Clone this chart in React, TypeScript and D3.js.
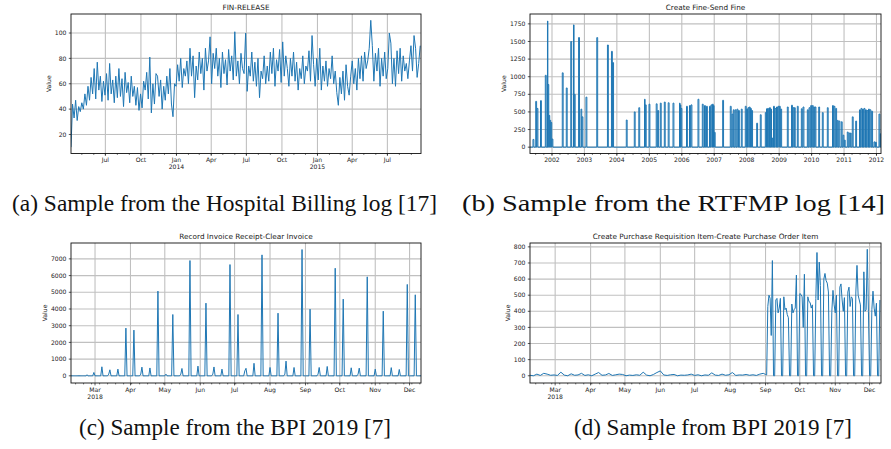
import React from "react";
import * as d3 from "d3";

const W = 891;
const H = 449;

// (a) Hospital Billing, FIN-RELEASE: one reading every 4 days from 2013-04-03
const finStart = "2013-04-03";
const finEnd = "2015-09-26";
const finValues = [
  10, 44, 33, 47, 31, 42, 38, 45,
  40, 52, 43, 58, 47, 65, 52,
  72, 48, 77, 55, 66, 46, 62, 51,
  68, 47, 76, 52, 63, 45, 66,
  49, 72, 50, 64, 42, 69, 53, 61,
  45, 66, 50, 58, 43, 57, 39,
  52, 41, 62, 55, 69, 48, 81, 37,
  60, 44, 68, 66, 50, 63, 40,
  58, 47, 66, 52, 72, 44, 34, 60,
  58, 75, 62, 80, 57, 72, 66,
  78, 60, 88, 66, 82, 49, 74, 63,
  85, 68, 80, 55, 88, 70, 78,
  97, 60, 84, 72, 88, 66, 80, 57,
  85, 68, 79, 59, 87, 70, 82,
  63, 101, 66, 78, 60, 84, 72, 68,
  100, 54, 74, 66, 85, 62, 77,
  58, 80, 49, 70, 64, 82, 60, 74,
  62, 85, 68, 88, 58, 79, 70,
  87, 61, 93, 66, 82, 72, 58, 80,
  66, 85, 62, 77, 55, 72, 64,
  82, 60, 74, 70, 86, 62, 98, 75,
  58, 80, 63, 88, 55, 74, 62,
  78, 58, 72, 64, 82, 60, 70, 53,
  43, 65, 52, 70, 47, 75, 58,
  51, 66, 78, 60, 72, 55, 80, 64,
  82, 62, 85, 72, 78, 88, 110,
  90, 62, 84, 70, 88, 58, 80, 66,
  85, 64, 72, 100, 92, 60, 80,
  58, 86, 68, 88, 62, 82, 70, 76,
  64, 78, 90, 70, 98, 88, 65, 76, 90,
];

// (b) RTFMP, Create Fine-Send Fine: bursts (decimal year, value)
const fineDomain = [2001.322, 2012.139];
const fineYears = [
  2001.414, 2001.498, 2001.538, 2001.646, 2001.794, 2001.861, 2001.877, 2001.908, 2001.938, 2001.969,
  2002.0, 2002.317, 2002.441, 2002.579, 2002.663, 2002.687, 2002.82, 2002.894, 2002.925,
  2003.048, 2003.381, 2003.71, 2003.834, 2003.871,
  2004.29, 2004.536, 2004.675, 2004.851, 2004.875, 2004.989,
  2005.211, 2005.257, 2005.337, 2005.461, 2005.581, 2005.729, 2005.929, 2005.954, 2005.975,
  2006.145, 2006.237, 2006.284, 2006.499, 2006.632, 2006.7, 2006.761, 2006.854, 2006.9, 2006.946, 2006.977,
  2007.002, 2007.26, 2007.495, 2007.547, 2007.587, 2007.646, 2007.701, 2007.747, 2007.834, 2007.957,
  2008.0, 2008.04, 2008.08, 2008.117, 2008.154, 2008.308, 2008.419, 2008.573, 2008.61, 2008.647,
  2008.703, 2008.749, 2008.77, 2008.826, 2008.872, 2008.918, 2008.965,
  2009.005, 2009.048, 2009.251, 2009.381, 2009.427, 2009.467, 2009.559, 2009.683, 2009.735, 2009.868, 2009.92, 2009.972,
  2010.022, 2010.068, 2010.105, 2010.219, 2010.33, 2010.484, 2010.644, 2010.69, 2010.743, 2010.792, 2010.844, 2010.915, 2010.968,
  2011.008, 2011.1, 2011.153, 2011.193, 2011.254, 2011.359, 2011.476, 2011.522, 2011.569, 2011.615, 2011.661,
  2011.707, 2011.754, 2011.8, 2011.852, 2011.923, 2011.969,
  2012.077, 2012.117,
];
const fineValues = [
  110, 650, 550, 660, 1020, 1790, 890, 450, 380, 350,
  115, 1055, 840, 1500, 1735, 750, 1556, 540, 430,
  710, 1555, 1450, 1360, 1200,
  385, 500, 560, 680, 600, 610,
  615, 520, 625, 640, 630, 625, 625, 600, 550,
  580, 590, 600, 680, 610, 590, 580, 580, 600, 610, 590,
  210, 665, 580, 470, 530, 530, 540, 520, 540, 580,
  540, 560, 570, 550, 520, 340, 460, 490, 545, 550,
  560, 540, 130, 580, 550, 570, 580,
  580, 540, 570, 595, 560, 560, 580, 545, 570, 530, 560, 590,
  590, 570, 570, 570, 490, 560, 590, 580, 550, 380, 370, 360, 170,
  100, 215, 200, 200, 430, 370, 530, 550, 540, 550, 530,
  520, 540, 530, 510, 75, 70,
  470, 190,
];

// (c) BPI 2019, Record Invoice Receipt-Clear Invoice: daily, zero except these days
const invStart = "2018-02-08";
const invEnd = "2018-12-11";
const invoiceDates = [
  "2018-02-22", "2018-02-28", "2018-03-07", "2018-03-13", "2018-03-14", "2018-03-21", "2018-03-28",
  "2018-04-04", "2018-04-10", "2018-04-11", "2018-04-18", "2018-04-25", "2018-05-02", "2018-05-08",
  "2018-05-15", "2018-05-16", "2018-05-23", "2018-05-30", "2018-06-06", "2018-06-12", "2018-06-13",
  "2018-06-20", "2018-06-27", "2018-07-04", "2018-07-10", "2018-07-11", "2018-07-18", "2018-07-25",
  "2018-08-01", "2018-08-08", "2018-08-14", "2018-08-15", "2018-08-22", "2018-08-29", "2018-09-05",
  "2018-09-12", "2018-09-13", "2018-09-20", "2018-09-27", "2018-10-04", "2018-10-11", "2018-10-17",
  "2018-10-18", "2018-10-25", "2018-11-01", "2018-11-08", "2018-11-15", "2018-11-22", "2018-11-29",
  "2018-12-06",
];
const invoiceValues = [
  60, 200, 540, 100, 360, 400, 2855,
  2735, 100, 520, 470, 5070, 100, 3670,
  100, 440, 6900, 580, 4350, 100, 530,
  400, 6660, 3670, 300, 450, 750, 7240,
  500, 3750, 100, 880, 500, 7560, 3990,
  100, 500, 560, 6440, 4590, 480, 100,
  460, 5925, 400, 3870, 490, 380, 5470,
  4850,
];

// (d) BPI 2019, Create Purchase Requisition Item-Create Purchase Order Item
const reqStart = "2018-02-07";
const reqEnd = "2018-12-11";
// every 3 days from 2018-02-07
const reqEarly = [
  3, 0, 10, 2, 15, 10, 3, 5, 2, 22, 4, 0, 12, 3, 5, 15, 2, 6, 0, 10,
  20, 3, 5, 14, 2, 6, 10, 8, 0, 4, 2, 6, 3, 22, 4, 0, 8, 20, 30, 5,
  2, 6, 8, 0, 4, 3, 5, 10, 2, 6, 0, 5, 3, 18, 4, 2, 10, 3, 6, 20,
  2, 5, 4, 8, 3, 6, 2, 10, 15,
];
// daily from 2018-09-01
const reqDailyStart = "2018-09-01";
const reqDaily = [
  8, 5,
  430, 500, 480, 250, 715, 0, 0,
  470, 480, 390, 420, 480, 0, 0,
  490, 410, 420, 380, 360, 0, 0,
  445, 390, 410, 420, 625, 0, 0,
  510, 505, 490, 300, 630, 0, 0,
  490, 460, 455, 420, 440, 0, 0,
  480, 765, 470, 705, 560, 0, 0,
  600, 635, 590, 575, 520, 0, 0,
  400, 530, 440, 390, 500, 0, 0,
  550, 570, 470, 400, 485, 0, 0,
  520, 550, 430, 490, 480, 0, 0,
  520, 685, 500, 470, 440, 0, 0,
  645, 400, 410, 785, 400, 0, 0,
  410, 525, 420, 370, 450, 0, 0,
  470,
];

const yTicksA = [20, 40, 60, 80, 100];
const yTicksB = [0, 250, 500, 750, 1000, 1250, 1500, 1750];
const yTicksC = [0, 1000, 2000, 3000, 4000, 5000, 6000, 7000];
const yTicksD = [0, 100, 200, 300, 400, 500, 600, 700, 800];

const titles = [
  "FIN-RELEASE",
  "Create Fine-Send Fine",
  "Record Invoice Receipt-Clear Invoice",
  "Create Purchase Requisition Item-Create Purchase Order Item",
];
const captions = [
  "(a) Sample from the Hospital Billing log [17]",
  "(b) Sample from the RTFMP log [14]",
  "(c) Sample from the BPI 2019 [7]",
  "(d) Sample from BPI 2019 [7]",
];

const BLUE = "#1f77b4";
const GRID = "#c0c0c0";
const SANS = "DejaVu Sans, sans-serif";
const SERIF = "Liberation Serif, Times New Roman, serif";

const parse = d3.timeParse("%Y-%m-%d");
const key = d3.timeFormat("%Y-%m-%d");
const fmtMon = d3.timeFormat("%b");
const fmtYear = d3.timeFormat("%Y");

const fromDecimalYear = (y: number): Date => {
  const yr = Math.floor(y);
  const a = new Date(yr, 0, 1).getTime();
  const b = new Date(yr + 1, 0, 1).getTime();
  return new Date(a + (y - yr) * (b - a));
};

type Pt = [Date, number];

type PanelSpec = {
  id: string;
  x: number;
  y: number;
  w: number;
  h: number;
  title: string;
  xDomain: [Date, Date];
  yDomain: [number, number];
  yTicks: number[];
  major: Date[];
  minor: Date[];
  label: (d: Date, i: number) => string[];
  points: Pt[];
};

// build the series
const finPoints: Pt[] = finValues.map((v, i) => [d3.timeDay.offset(parse(finStart)!, 4 * i), v]);

const fineD0 = fromDecimalYear(fineDomain[0]);
const fineD1 = fromDecimalYear(fineDomain[1]);
const finePoints: Pt[] = [[fineD0, 0]];
fineYears.forEach((yr, i) => {
  const d = fromDecimalYear(yr);
  const next = i < fineYears.length - 1 ? fromDecimalYear(fineYears[i + 1]) : fineD1;
  const span = Math.min(10 * 864e5, 0.75 * (next.getTime() - d.getTime()));
  const e = new Date(d.getTime() + span);
  finePoints.push([d, 0], [d, fineValues[i]], [e, fineValues[i]], [e, 0]);
});
finePoints.push([fineD1, 0]);

const invMap = new Map(invoiceDates.map((d, i) => [d, invoiceValues[i]]));
const invPoints: Pt[] = d3.timeDay
  .range(parse(invStart)!, d3.timeDay.offset(parse(invEnd)!, 1))
  .map((d) => [d, invMap.get(key(d)) ?? 0]);

const reqPoints: Pt[] = [
  ...reqEarly.map((v, i) => [d3.timeDay.offset(parse(reqStart)!, 3 * i), v] as Pt),
  ...reqDaily.map((v, i) => [d3.timeDay.offset(parse(reqDailyStart)!, i), v] as Pt),
];

const monthLabel = (d: Date) => (d.getMonth() === 0 ? [fmtMon(d), fmtYear(d)] : [fmtMon(d)]);
const firstYearLabel = (d: Date, i: number) => (i === 0 ? [fmtMon(d), fmtYear(d)] : [fmtMon(d)]);

const makeSpecs = (): PanelSpec[] => {
  const aD: [Date, Date] = [parse(finStart)!, parse(finEnd)!];
  const bD: [Date, Date] = [fineD0, fineD1];
  const cD: [Date, Date] = [parse(invStart)!, parse(invEnd)!];
  const dD: [Date, Date] = [parse(reqStart)!, parse(reqEnd)!];
  return [
    {
      id: "a", x: 71, y: 14, w: 350, h: 139.5, title: titles[0],
      xDomain: aD, yDomain: [5, 115], yTicks: yTicksA,
      major: d3.timeMonth.every(3)!.range(aD[0], aD[1]),
      minor: d3.timeMonth.range(aD[0], aD[1]),
      label: monthLabel, points: finPoints,
    },
    {
      id: "b", x: 530, y: 14, w: 351, h: 139.5, title: titles[1],
      xDomain: bD, yDomain: [-90, 1890], yTicks: yTicksB,
      major: d3.timeYear.range(bD[0], bD[1]),
      minor: d3.timeMonth.every(3)!.range(bD[0], bD[1]),
      label: (d) => [fmtYear(d)], points: finePoints,
    },
    {
      id: "c", x: 71, y: 243, w: 350, h: 140, title: titles[2],
      xDomain: cD, yDomain: [-430, 7950], yTicks: yTicksC,
      major: d3.timeMonth.range(cD[0], cD[1]),
      minor: d3.timeMonday.range(cD[0], cD[1]),
      label: firstYearLabel, points: invPoints,
    },
    {
      id: "d", x: 530, y: 243, w: 351, h: 140, title: titles[3],
      xDomain: dD, yDomain: [-45, 824], yTicks: yTicksD,
      major: d3.timeMonth.range(dD[0], dD[1]),
      minor: d3.timeMonday.range(dD[0], dD[1]),
      label: firstYearLabel, points: reqPoints,
    },
  ];
};

const Panel = ({ s }: { s: PanelSpec }) => {
  const xs = d3.scaleTime().domain(s.xDomain).range([s.x, s.x + s.w]);
  const ys = d3.scaleLinear().domain(s.yDomain).range([s.y + s.h, s.y]);
  const line = d3.line<Pt>().x((d) => xs(d[0])).y((d) => ys(d[1]));
  const bottom = s.y + s.h;
  const maxChars = d3.max(s.yTicks, (t) => String(t).length) ?? 3;
  const ylabX = s.x - 4.5 - maxChars * 3.9 - 3.5;
  const clip = `clip-${s.id}`;

  return (
    <g>
      <defs>
        <clipPath id={clip}>
          <rect x={s.x} y={s.y} width={s.w} height={s.h} />
        </clipPath>
      </defs>
      {/* grid */}
      {s.yTicks.map((t) => (
        <line key={`gy${t}`} x1={s.x} x2={s.x + s.w} y1={ys(t)} y2={ys(t)} stroke={GRID} strokeWidth={1.1} />
      ))}
      {s.major.map((d) => (
        <line key={`gx${+d}`} x1={xs(d)} x2={xs(d)} y1={s.y} y2={bottom} stroke={GRID} strokeWidth={1.1} />
      ))}
      <path
        d={line(s.points) ?? ""}
        fill="none"
        stroke={BLUE}
        strokeWidth={1}
        strokeLinejoin="round"
        clipPath={`url(#${clip})`}
      />
      <rect x={s.x} y={s.y} width={s.w} height={s.h} fill="none" stroke="#111" strokeWidth={0.9} />
      {/* y axis */}
      {s.yTicks.map((t) => (
        <g key={`ty${t}`}>
          <line x1={s.x - 2.2} x2={s.x} y1={ys(t)} y2={ys(t)} stroke="#111" strokeWidth={0.7} />
          <text x={s.x - 4.5} y={ys(t)} dy="0.35em" textAnchor="end" fontSize={6.1} fill="#222" fontFamily={SANS}>
            {t}
          </text>
        </g>
      ))}
      {/* x axis */}
      {s.minor.map((d) => (
        <line key={`mx${+d}`} x1={xs(d)} x2={xs(d)} y1={bottom} y2={bottom + 1.4} stroke="#111" strokeWidth={0.6} />
      ))}
      {s.major.map((d, i) => (
        <g key={`tx${+d}`}>
          <line x1={xs(d)} x2={xs(d)} y1={bottom} y2={bottom + 2.4} stroke="#111" strokeWidth={0.7} />
          {s.label(d, i).map((txt, k) => (
            <text
              key={k}
              x={xs(d)}
              y={bottom + 8.8 + k * 6.9}
              textAnchor="middle"
              fontSize={6.1}
              fill="#222"
              fontFamily={SANS}
            >
              {txt}
            </text>
          ))}
        </g>
      ))}
      <text
        x={s.x + s.w / 2}
        y={s.y - 3.6}
        textAnchor="middle"
        fontSize={7.3}
        fill="#222"
        fontFamily={SANS}
      >
        {s.title}
      </text>
      <text
        transform={`translate(${ylabX},${s.y + s.h / 2}) rotate(-90)`}
        textAnchor="middle"
        fontSize={6.1}
        fill="#222"
        fontFamily={SANS}
      >
        Value
      </text>
    </g>
  );
};

// caption placement: left edge, baseline and width of each sub-caption
const captionPos = [
  { x: 12, y: 211, len: 425 },
  { x: 462, y: 211, len: 423 },
  { x: 79, y: 435, len: 312 },
  { x: 574, y: 435, len: 278 },
];

export default function App() {
  const specs = makeSpecs();
  return (
    <svg
      width={W}
      height={H}
      viewBox={`0 0 ${W} ${H}`}
      style={{ position: "absolute", left: 0, top: 0, background: "#fff" }}
    >
      <rect width={W} height={H} fill="#fff" />
      {specs.map((s) => (
        <Panel key={s.id} s={s} />
      ))}
      {captions.map((c, i) => (
        <text
          key={c}
          x={captionPos[i].x}
          y={captionPos[i].y}
          fontSize={23}
          fill="#111"
          fontFamily={SERIF}
          textLength={captionPos[i].len}
          lengthAdjust="spacingAndGlyphs"
        >
          {c}
        </text>
      ))}
    </svg>
  );
}
